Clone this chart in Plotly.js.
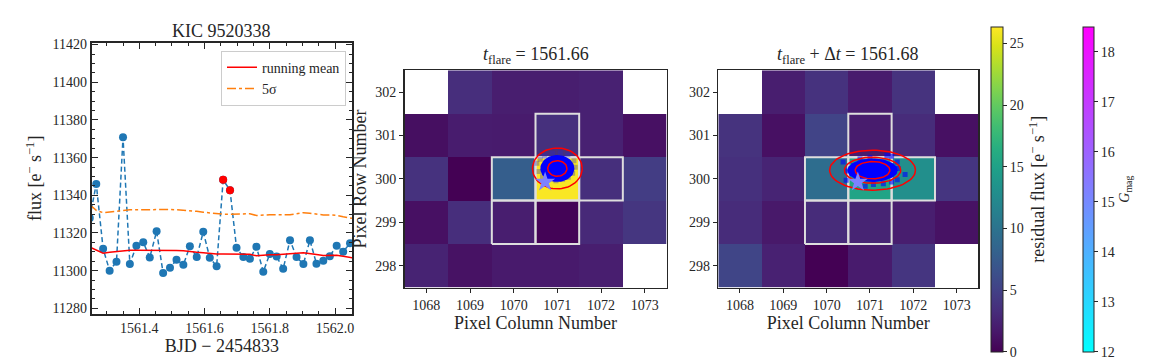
<!DOCTYPE html>
<html>
<head>
<meta charset="utf-8">
<script src="https://cdn.plot.ly/plotly-3.0.1.min.js"></script>
<style>
    html, body { margin: 0; padding: 0; background: #ffffff; }
    #chart { width: 1152px; height: 360px; }
</style>
</head>
<body>
<div id="chart"></div>
<script>
// Light curve around the flare (BJD - 2454833)
const bjd = [1561.248, 1561.268, 1561.289, 1561.309, 1561.330, 1561.350, 1561.371, 1561.391,
    1561.412, 1561.432, 1561.453, 1561.473, 1561.494, 1561.514, 1561.535, 1561.555,
    1561.576, 1561.596, 1561.616, 1561.637, 1561.657, 1561.678, 1561.698, 1561.719,
    1561.739, 1561.759, 1561.780, 1561.800, 1561.821, 1561.841, 1561.862, 1561.882,
    1561.903, 1561.923, 1561.943, 1561.964, 1561.984, 1562.005, 1562.025, 1562.046, 1562.066];
const flux = [11328, 11346, 11311.6, 11300, 11304.7, 11370.8, 11303.6, 11313.2,
    11315.1, 11307, 11320.9, 11298.7, 11301.5, 11305.8, 11303.1, 11313,
    11307.2, 11320.6, 11306.8, 11302.4, 11348.2, 11342.7, 11312.1, 11307.3,
    11306.3, 11312.7, 11299.4, 11308.9, 11307.5, 11301, 11316.2, 11307.2,
    11303.5, 11316.2, 11303.7, 11305.2, 11307.7, 11313.2, 11310, 11314.6, 11312];
const runningMean = [11312.5, 11311, 11309.3, 11309.8, 11310.3, 11310.8, 11310.9, 11310.9,
    11310.9, 11310.8, 11311, 11310.9, 11310.8, 11310.7, 11310.6, 11310.4,
    11309.8, 11309.5, 11309.1, 11308.8, 11308.8, 11308.8, 11308.8, 11308.8,
    11308.7, 11307.9, 11308.3, 11308.5, 11308.5, 11308.6, 11308.8, 11309.2,
    11309.5, 11309.2, 11308.6, 11308.1, 11308.1, 11308.2, 11307.6, 11306.9, 11306.5];
const fiveSigma = [11335, 11332, 11330.8, 11331.2, 11331.7, 11332.2, 11332.3, 11332.3,
    11332.4, 11332.5, 11332.6, 11332.6, 11332.5, 11332.3, 11332.1, 11331.8,
    11331.5, 11331, 11330.6, 11330.2, 11330, 11330, 11330, 11330.2,
    11330.2, 11329.3, 11329.6, 11329.7, 11329.7, 11329.6, 11329.7, 11330.2,
    11330.8, 11330.5, 11329.9, 11329.6, 11329.6, 11329.4, 11328.6, 11327.8, 11327.4];
const flareBjd = [1561.657, 1561.678];
const flareFlux = [11348.2, 11342.7];

// Target pixel file cutout
const pixelCols = [1068, 1069, 1070, 1071, 1072, 1073];
const pixelRows = [298, 299, 300, 301, 302];
const residualFlare = [
    [2.5, 1.2, 1.8, 1.8, 2.1, null],
    [1.1, 3.4, 2.1, 0.2, 3.0, 4.1],
    [3.7, 0.0, 7.8, 26.2, 3.5, 4.7],
    [1.0, 2.0, 1.9, 3.6, 2.4, 1.1],
    [null, 3.4, 2.1, 2.1, 2.4, null]
];
const residualAfter = [
    [5.4, 2.4, 0.0, 1.9, 4.0, null],
    [3.2, 1.7, 3.2, 2.6, 2.1, 1.2],
    [3.6, 2.6, 9.4, 15.3, 13.0, 4.0],
    [3.8, 1.1, 5.3, 2.0, 3.2, 1.1],
    [null, 2.1, 3.7, 1.9, 3.8, null]
];
const apertureCols = [1071, 1070, 1071, 1072, 1070, 1071];
const apertureRows = [301, 300, 300, 300, 299, 299];

// Gaia source in the cutout
const starCol = [1070.72];
const starRow = [299.93];
const starGmag = [15.2];

// Centroid distributions (centre, semi-axes of the sample cloud and the contours)
const flareCentre = [1071.0, 300.24];
const flareCloud = [0.39, 0.31];
const flareContourX = [0.57, 0.22];
const flareContourY = [0.47, 0.18];
const flareSampleCols = [1070.53, 1070.58, 1070.66, 1070.81, 1070.97, 1071.12, 1071.25, 1071.35,
    1071.41, 1071.38, 1071.24, 1071.07, 1070.89, 1070.71, 1070.61];
const flareSampleRows = [300.36, 300.17, 300.05, 299.99, 299.96, 299.99, 300.04, 300.13,
    300.27, 300.42, 300.55, 300.60, 300.59, 300.53, 300.45];

const afterCentre = [1071.06, 300.2];
const afterCloud = [0.58, 0.27];
const afterContourX = [0.99, 0.65, 0.40];
const afterContourY = [0.46, 0.30, 0.20];
const afterSampleCols = [1070.38, 1070.46, 1070.45, 1070.89, 1071.08, 1071.31, 1071.50, 1071.63,
    1071.81, 1071.65, 1071.63, 1071.50, 1071.39, 1071.00, 1070.77, 1070.62, 1070.58, 1070.69];
const afterSampleRows = [300.39, 300.18, 299.97, 299.83, 299.87, 299.89, 299.93, 299.98,
    300.10, 300.24, 300.39, 300.52, 300.54, 300.49, 300.46, 300.31, 300.12, 300.01];

const FONT = 'Liberation Serif';
const INK = '#262626';
const W = 1152, H = 360;

// pixel box -> paper domain
function domX(a, b) { return [a / W, b / W]; }
function domY(top, bottom) { return [1 - bottom / H, 1 - top / H]; }

// closed ellipse outline in data units
function ellipse(cx, cy, a, b) {
    const xs = [], ys = [];
    for (let i = 0; i <= 72; i++) {
        const t = 2 * Math.PI * i / 72;
        xs.push(cx + a * Math.cos(t));
        ys.push(cy + b * Math.sin(t));
    }
    return { x: xs, y: ys };
}

// outline of every aperture pixel
function apertureTrace(xa, ya) {
    const xs = [], ys = [];
    for (let i = 0; i < apertureCols.length; i++) {
        const c = apertureCols[i], r = apertureRows[i];
        xs.push(c - 0.5, c + 0.5, c + 0.5, c - 0.5, c - 0.5, null);
        ys.push(r - 0.5, r - 0.5, r + 0.5, r + 0.5, r - 0.5, null);
    }
    return {
        type: 'scatter', mode: 'lines', x: xs, y: ys, xaxis: xa, yaxis: ya,
        line: { color: '#dedede', width: 2 }, showlegend: false, hoverinfo: 'skip'
    };
}

function pixelPanel(z, centre, cloud, cx, cy, sCols, sRows, sampleColor, xa, ya) {
    const traces = [];
    traces.push({
        type: 'heatmap', x: pixelCols, y: pixelRows, z: z,
        coloraxis: 'coloraxis', xaxis: xa, yaxis: ya, hoverinfo: 'skip'
    });
    traces.push(apertureTrace(xa, ya));
    traces.push({
        type: 'scatter', mode: 'markers', x: sCols, y: sRows, xaxis: xa, yaxis: ya,
        marker: { symbol: 'square', size: 5, color: sampleColor },
        showlegend: false, hoverinfo: 'skip'
    });
    const c = ellipse(centre[0], centre[1], cloud[0], cloud[1]);
    traces.push({
        type: 'scatter', mode: 'lines', x: c.x, y: c.y, xaxis: xa, yaxis: ya,
        fill: 'toself', fillcolor: '#0000ff', line: { width: 0, color: '#0000ff' },
        showlegend: false, hoverinfo: 'skip'
    });
    for (let i = 0; i < cx.length; i++) {
        const e = ellipse(centre[0], centre[1], cx[i], cy[i]);
        traces.push({
            type: 'scatter', mode: 'lines', x: e.x, y: e.y, xaxis: xa, yaxis: ya,
            line: { color: '#ff0000', width: 1.5 }, showlegend: false, hoverinfo: 'skip'
        });
    }
    traces.push({
        type: 'scatter', mode: 'markers', x: starCol, y: starRow, xaxis: xa, yaxis: ya,
        marker: { symbol: 'star', size: 15, color: starGmag, coloraxis: 'coloraxis2' },
        showlegend: false, hoverinfo: 'skip'
    });
    return traces;
}

const data = [
    {
        type: 'scatter', mode: 'lines+markers', x: bjd, y: flux,
        line: { color: '#1f77b4', width: 1.5, dash: '5px,3px' },
        marker: { color: '#1f77b4', size: 8 },
        showlegend: false, hoverinfo: 'skip'
    },
    {
        type: 'scatter', mode: 'lines', x: bjd, y: runningMean, name: 'running mean',
        line: { color: '#ff0000', width: 1.5 }
    },
    {
        type: 'scatter', mode: 'lines', x: bjd, y: fiveSigma, name: '5σ',
        line: { color: '#ff7f0e', width: 1.5, dash: 'dashdot' }
    },
    {
        type: 'scatter', mode: 'markers', x: flareBjd, y: flareFlux,
        marker: { color: '#ff0000', size: 8 }, showlegend: false, hoverinfo: 'skip'
    },
    ...pixelPanel(residualFlare, flareCentre, flareCloud, flareContourX, flareContourY,
        flareSampleCols, flareSampleRows, 'rgba(40,40,200,0.35)', 'x2', 'y2'),
    ...pixelPanel(residualAfter, afterCentre, afterCloud, afterContourX, afterContourY,
        afterSampleCols, afterSampleRows, 'rgba(0,0,255,0.6)', 'x3', 'y3')
];

const tickFont = { family: FONT, size: 14, color: INK };
const labelFont = { family: FONT, size: 18, color: INK };

const pixelAxisX = (domain, anchor) => ({
    domain: domain, anchor: anchor, range: [1067.5, 1073.5], tickvals: pixelCols,
    ticks: 'outside', ticklen: 4, tickcolor: INK, showline: true, mirror: true,
    linecolor: INK, linewidth: 1.5, showgrid: false, zeroline: false, tickfont: tickFont,
    title: { text: 'Pixel Column Number', font: labelFont, standoff: 2 }
});
const pixelAxisY = (domain, anchor, title) => ({
    domain: domain, anchor: anchor, range: [297.5, 302.5], tickvals: pixelRows,
    ticks: 'outside', ticklen: 4, tickcolor: INK, showline: true, mirror: true,
    linecolor: INK, linewidth: 1.5, showgrid: false, zeroline: false, tickfont: tickFont,
    title: { text: title, font: labelFont, standoff: 4 }
});

const layout = {
    width: W, height: H,
    margin: { l: 0, r: 0, t: 0, b: 0 },
    paper_bgcolor: '#ffffff', plot_bgcolor: '#ffffff',
    font: { family: FONT, color: INK },
    xaxis: {
        domain: domX(91.7, 352), anchor: 'y', range: [1561.254, 1562.052],
        dtick: 0.2, tickformat: '.1f', ticks: 'inside', ticklen: 6, tickcolor: INK,
        minor: { dtick: 0.05, ticks: 'inside', ticklen: 3, tickcolor: INK },
        showline: true, mirror: 'allticks', linecolor: INK, linewidth: 2,
        showgrid: false, zeroline: false, tickfont: tickFont,
        title: { text: 'BJD − 2454833', font: labelFont, standoff: 4 }
    },
    yaxis: {
        domain: domY(42.7, 314), anchor: 'x', range: [11277, 11421],
        dtick: 20, tickformat: 'd', ticks: 'inside', ticklen: 6, tickcolor: INK,
        minor: { dtick: 5, ticks: 'inside', ticklen: 3, tickcolor: INK },
        showline: true, mirror: 'allticks', linecolor: INK, linewidth: 2,
        showgrid: false, zeroline: false, tickfont: tickFont,
        title: { text: 'flux [e<sup>−</sup> s<sup>−1</sup>]', font: labelFont, standoff: 6 }
    },
    xaxis2: pixelAxisX(domX(404.5, 666.5), 'y2'),
    yaxis2: pixelAxisY(domY(70.3, 287.5), 'x2', 'Pixel Row Number'),
    xaxis3: pixelAxisX(domX(718.3, 978.3), 'y3'),
    yaxis3: pixelAxisY(domY(70.3, 287.5), 'x3', ''),
    coloraxis: {
        colorscale: 'Viridis', cmin: 0, cmax: 26.35,
        colorbar: {
            x: 990.7 / W, xanchor: 'left', y: 1 - 189.2 / H, yanchor: 'middle',
            len: 325 / H, lenmode: 'fraction', thickness: 12, thicknessmode: 'pixels',
            xpad: 0, ypad: 0, outlinewidth: 1, outlinecolor: INK,
            tickvals: [0, 5, 10, 15, 20, 25], ticks: 'outside', ticklen: 4, tickcolor: INK,
            tickfont: tickFont,
            title: { text: 'residual flux [e<sup>−</sup> s<sup>−1</sup>]', side: 'right', font: labelFont }
        }
    },
    coloraxis2: {
        colorscale: [[0, '#00ffff'], [1, '#ff00ff']], cmin: 12, cmax: 18.5,
        colorbar: {
            x: 1083.3 / W, xanchor: 'left', y: 1 - 189.2 / H, yanchor: 'middle',
            len: 325 / H, lenmode: 'fraction', thickness: 11, thicknessmode: 'pixels',
            xpad: 0, ypad: 0, outlinewidth: 1, outlinecolor: INK,
            tickvals: [12, 13, 14, 15, 16, 17, 18], ticks: 'outside', ticklen: 4, tickcolor: INK,
            tickfont: tickFont,
            title: { text: '<i>G</i><sub>mag</sub>', side: 'right', font: { family: FONT, size: 14, color: INK } }
        }
    },
    legend: {
        x: 346 / W, xanchor: 'right', y: 1 - 50.7 / H, yanchor: 'top',
        bgcolor: '#ffffff', bordercolor: '#cccccc', borderwidth: 1,
        font: { family: FONT, size: 14, color: INK }
    },
    annotations: [
        { text: 'KIC 9520338', x: 221.9 / W, y: 1 - 30.7 / H },
        { text: '<i>t</i><sub>flare</sub> = 1561.66', x: 535.5 / W, y: 1 - 55 / H },
        { text: '<i>t</i><sub>flare</sub> + Δ<i>t</i> = 1561.68', x: 848.3 / W, y: 1 - 55 / H }
    ].map(a => ({
        ...a, xref: 'paper', yref: 'paper', xanchor: 'center', yanchor: 'middle',
        showarrow: false, font: { family: FONT, size: 18, color: INK }
    }))
};

Plotly.newPlot('chart', data, layout, { staticPlot: true, displayModeBar: false });
</script>
</body>
</html>
